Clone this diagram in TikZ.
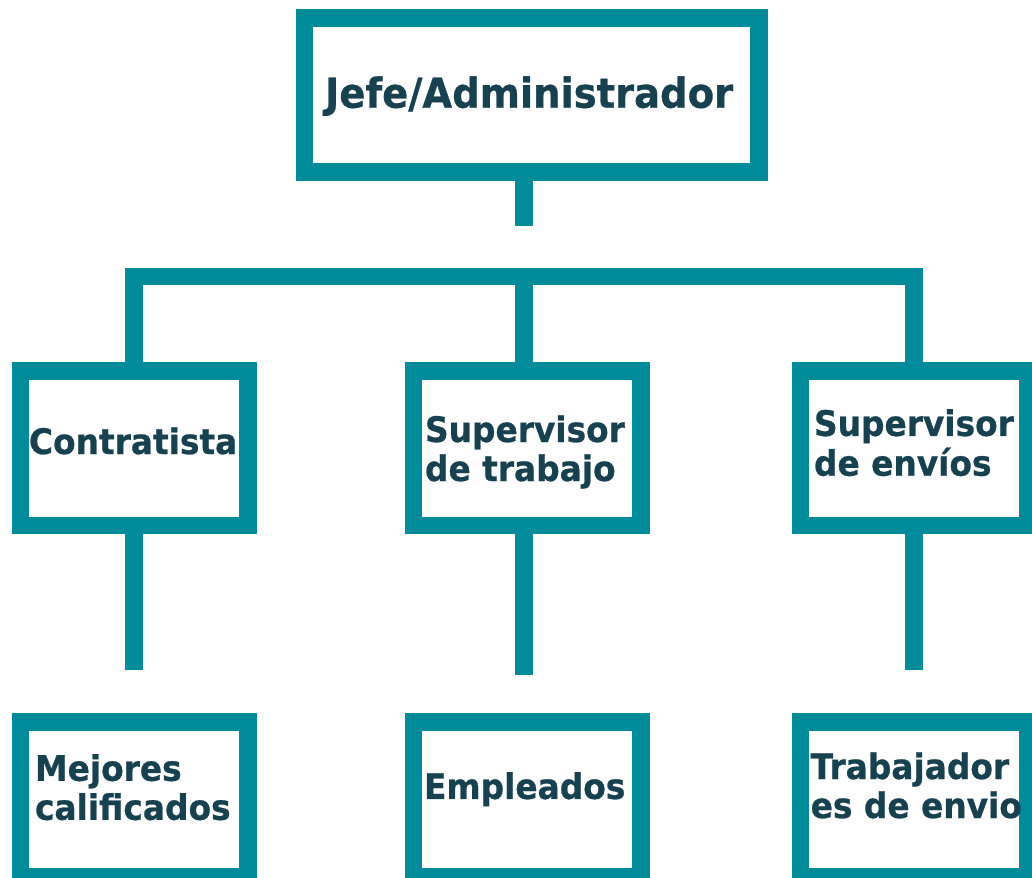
\documentclass[tikz,border=0pt]{standalone}
\usepackage{fontspec}
\setmainfont{DejaVu Sans}[FakeStretch=0.935, BoldFeatures={FakeBold=0.7}]
\definecolor{teal}{HTML}{008B9B}
\definecolor{ink}{HTML}{18414F}
\tikzset{
  box/.style={draw=teal, line width=17.5pt, fill=white, minimum width=227.5pt, minimum height=154.5pt, inner sep=0pt, outer sep=0pt},
  link/.style={draw=teal, line width=17.5pt, line join=miter},
  txt/.style={text=ink, inner sep=0pt, outer sep=0pt, anchor=base west, font=\bfseries\fontsize{35.1}{39}\selectfont},
  bigtxt/.style={txt, font=\bfseries\fontsize{41.2}{45}\selectfont},
}
\begin{document}
\begin{tikzpicture}[x=1pt, y=-1pt]
\useasboundingbox (0,0) rectangle (1032,877);
\clip (0,0) rectangle (1032,877);
% boxes
\node[box, minimum width=454.6pt, minimum height=154.3pt] (top) at (531.6,95.05) {};
\node[box] (lbox) at (134,448.45) {};
\node[box] (mbox) at (527,448.45) {};
\node[box] (rbox) at (914,448.45) {};
\node[box] (lbot) at (134,799.4) {};
\node[box] (mbot) at (527,799.4) {};
\node[box] (rbot) at (914,799.4) {};
% free ends / helper coordinates
\coordinate (topend) at (524,225.7);
\coordinate (bar) at (0,276.6);
\coordinate (lend) at (133.9,669.5);
\coordinate (mend) at (524,675);
\coordinate (rend) at (913.9,669.8);
% connectors
\draw[link] (topend |- top.south) -- (topend);
\draw[link] (lbox.north) -- (lbox.north |- bar) -- (rbox.north |- bar) -- (rbox.north);
\draw[link] (topend |- bar) -- (topend |- mbox.north);
\draw[link] (lend |- lbox.south) -- (lend);
\draw[link] (mend |- mbox.south) -- (mend);
\draw[link] (rend |- rbox.south) -- (rend);
% texts
\node[bigtxt] (ttop) at (325,107.7) {Jefe/Administrador};
\node[txt] (tl) at (29,454) {Contratista};
\node[txt] (tm) at (425,442) {\begin{tabular}[t]{@{}l@{}}Supervisor\\de trabajo\end{tabular}};
\node[txt] (tr) at (814,435.9) {\begin{tabular}[t]{@{}l@{}}Supervisor\\de envíos\end{tabular}};
\node[txt] (tlb) at (35,780.8) {\begin{tabular}[t]{@{}l@{}}Mejores\\calificados\end{tabular}};
\node[txt] (tmb) at (424,798.9) {Empleados};
\node[txt] (trb) at (810.7,779) {\begin{tabular}[t]{@{}l@{}}Trabajador\\es de envio\end{tabular}};
\end{tikzpicture}
\end{document}
